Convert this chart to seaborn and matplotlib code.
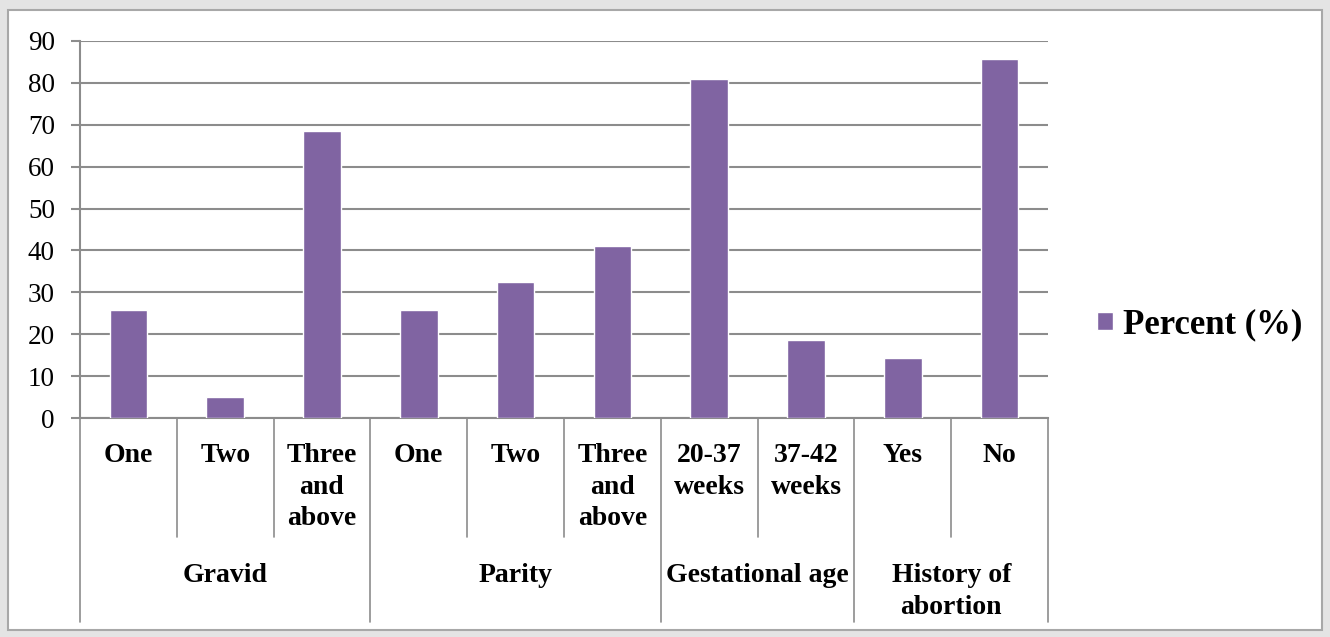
import matplotlib
matplotlib.use("Agg")
import matplotlib.pyplot as plt
import matplotlib.transforms as mtransforms
from matplotlib.patches import Patch, Rectangle
import seaborn as sns
import pandas as pd

# ---- data ----
groups = ["Gravid", "Gravid", "Gravid",
          "Parity", "Parity", "Parity",
          "Gestational age", "Gestational age",
          "History of\nabortion", "History of\nabortion"]
categories = ["One", "Two", "Three\nand\nabove",
              "One", "Two", "Three\nand\nabove",
              "20-37\nweeks", "37-42\nweeks",
              "Yes", "No"]
percent = [25.8, 5.0, 68.5, 25.8, 32.5, 41.0, 80.9, 18.6, 14.3, 85.7]
yticks = [0, 10, 20, 30, 40, 50, 60, 70, 80, 90]
series_name = "Percent (%)"

BAR = "#8064A2"
GRID = "#8c8c8c"

sns.set_theme(style="white")
plt.rcParams['font.family'] = ['Liberation Serif', 'DejaVu Serif']
plt.rcParams['text.color'] = 'black'

W, H = 1330, 637
fig = plt.figure(figsize=(W / 100, H / 100), dpi=100, facecolor='#e4e4e4')
fig.patches.append(Rectangle((8 / W, 1 - 630 / H), (1322 - 8) / W, (630 - 10) / H,
                             transform=fig.transFigure, facecolor='white',
                             edgecolor='#a8a8a8', lw=1.5, zorder=-10))

ax = fig.add_axes([80 / W, 1 - 418 / H, 968 / W, 377 / H], zorder=5)
ax.set_facecolor('none')

df = pd.DataFrame({
    "key": [f"{g} | {c} | {i}" for i, (g, c) in enumerate(zip(groups, categories))],
    "percent": percent,
})
sns.barplot(data=df, x="key", y="percent", color=BAR, saturation=1,
            width=0.39, ax=ax, zorder=3)

ax.set_xlim(-0.5, len(categories) - 0.5)
ax.set_ylim(0, 90)
ax.set_yticks(yticks)
ax.set_yticklabels([str(t) for t in yticks])
ax.set_xticks([])
ax.set_xlabel("")
ax.set_ylabel("")
ax.yaxis.grid(True, color=GRID, lw=1.5)
ax.set_axisbelow(True)
for s in ["top", "right"]:
    ax.spines[s].set_visible(False)
for s in ["left", "bottom"]:
    ax.spines[s].set_visible(True)
    ax.spines[s].set_color(GRID)
    ax.spines[s].set_linewidth(1.5)
ax.tick_params(axis='y', left=True, length=6.5, width=1.5, color=GRID,
               labelsize=19.5, pad=11.5, labelcolor='black')

trans = mtransforms.blended_transform_factory(ax.transData, ax.transAxes)

# category labels
for i, c in enumerate(categories):
    ax.text(i, -0.066, c, transform=trans, ha='center', va='top',
            fontsize=20, fontweight='bold', linespacing=1.35, color='black')

# group labels
seen = []
for g in groups:
    if g not in seen:
        seen.append(g)
for g in seen:
    idx = [i for i, gg in enumerate(groups) if gg == g]
    ctr = sum(idx) / len(idx)
    ax.text(ctr, -0.385, g, transform=trans, ha='center', va='top',
            fontsize=20, fontweight='bold', linespacing=1.35, color='black')

# separators
group_bounds = {-0.5, len(categories) - 0.5}
for i in range(1, len(groups)):
    if groups[i] != groups[i - 1]:
        group_bounds.add(i - 0.5)
for i in range(len(categories) + 1):
    b = i - 0.5
    y1 = -0.541 if b in group_bounds else -0.316
    ax.plot([b, b], [0, y1], transform=trans, clip_on=False, color=GRID, lw=1.2)

ax.set_xlim(-0.5, len(categories) - 0.5)
ax.set_ylim(0, 90)

# legend
fig.legend(handles=[Patch(facecolor=BAR)], labels=[series_name],
           loc='center left', bbox_to_anchor=(1097 / W, 1 - 325 / H),
           frameon=False, borderaxespad=0, borderpad=0,
           prop={'family': 'Liberation Serif', 'weight': 'bold', 'size': 25},
           handlelength=0.45, handleheight=0.45, handletextpad=0.3)

fig.savefig("out.png", dpi=100, facecolor=fig.get_facecolor())
